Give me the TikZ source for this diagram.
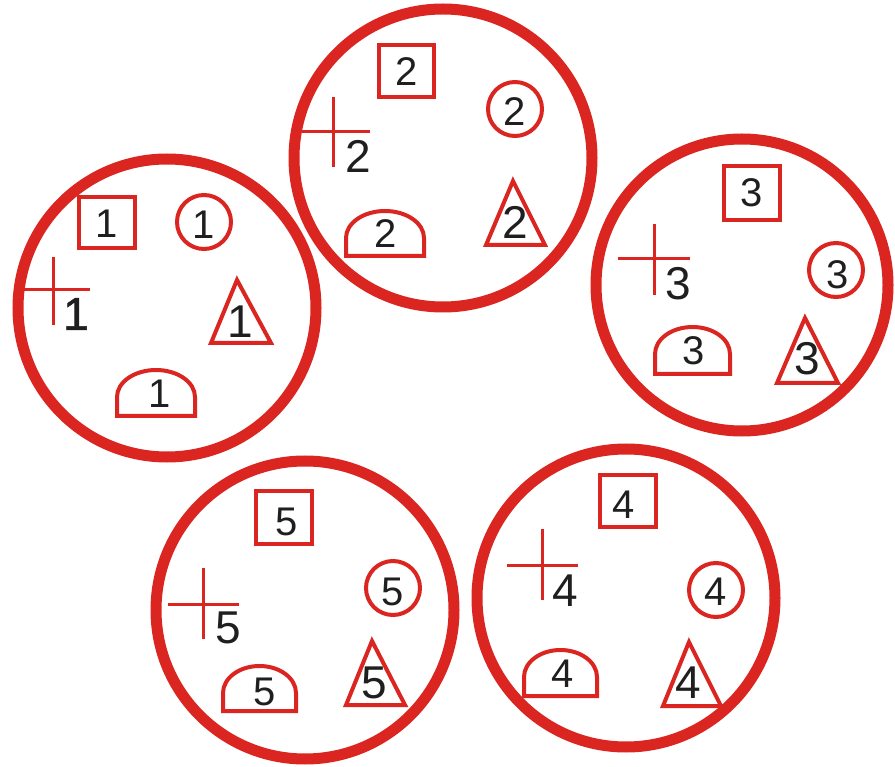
\documentclass[tikz,border=0pt]{standalone}
\usepackage{fontspec}
\setmainfont{Liberation Sans}
\definecolor{cred}{RGB}{218,37,32}
\begin{document}
\begin{tikzpicture}[x=1pt,y=-1pt,
  ring/.style={draw=cred, line width=11pt},
  shp/.style={draw=cred, line width=4pt},
  crs/.style={draw=cred, line width=3pt},
  num/.style={inner sep=0pt, text=black!88, font=\fontsize{40}{42}\selectfont},
  bignum/.style={num, font=\fontsize{46}{48}\selectfont}]
\useasboundingbox (0,0) rectangle (895,767);
\fill[white] (0,0) rectangle (895,767);
% outer rings
\draw[ring] (167,308) circle[radius=149];
\draw[ring] (443,158) circle[radius=149];
\draw[ring] (742,285) circle[radius=146];
\draw[ring] (626,598) circle[radius=149];
\draw[ring] (305,610) circle[radius=149];
% ---------- group 1 ----------
\draw[shp] (79,197) rectangle (135,248);
\node[num] (sq1) at (107,224) {1};
\draw[shp] (204,222) circle[radius=27];
\node[num] (ci1) at (204,225) {1};
\draw[crs] (23,290) -- (90,290) (53,257) -- (53,325);
\node[bignum, font=\fontsize{46}{48}\selectfont\addfontfeature{FakeBold=1.2}] (cr1) at (76,314) {1};
\draw[shp] (237,280) -- (211,343) -- (271,343) -- cycle;
\node[bignum] (tr1) at (240,322) {1};
\draw[shp] (117,416) -- (117,397) arc[start angle=180,end angle=360,x radius=39,y radius=27] -- (195,416) -- cycle;
\node[num] (do1) at (160,394) {1};
% ---------- group 2 ----------
\draw[shp] (379,45) rectangle (434,97);
\node[num] (sq2) at (407,72) {2};
\draw[shp] (515,109) circle[radius=27];
\node[num] (ci2) at (515,112) {2};
\draw[crs] (302,132) -- (370,132) (333,97) -- (333,167);
\node[bignum] (cr2) at (358,156) {2};
\draw[shp] (513,181) -- (486,245) -- (545,245) -- cycle;
\node[bignum] (tr2) at (515,222) {2};
\draw[shp] (346,256) -- (346,238) arc[start angle=180,end angle=360,x radius=39,y radius=27] -- (424,256) -- cycle;
\node[num] (do2) at (386,234) {2};
% ---------- group 3 ----------
\draw[shp] (724,166) rectangle (780,220);
\node[num] (sq3) at (752,193) {3};
\draw[shp] (836,270) circle[radius=27];
\node[num] (ci3) at (838,275) {3};
\draw[crs] (618,259) -- (690,259) (654,224) -- (654,295);
\node[bignum] (cr3) at (678,284) {3};
\draw[shp] (805,318) -- (777,383) -- (838,383) -- cycle;
\node[bignum] (tr3) at (807,359) {3};
\draw[shp] (655,374) -- (655,354) arc[start angle=180,end angle=360,x radius=37.5,y radius=27] -- (730,374) -- cycle;
\node[num] (do3) at (694,351) {3};
% ---------- group 4 ----------
\draw[shp] (600,475) rectangle (656,527);
\node[num] (sq4) at (624,505) {4};
\draw[shp] (716,590) circle[radius=27];
\node[num] (ci4) at (716,592) {4};
\draw[crs] (507,565) -- (578,565) (542,529) -- (542,600);
\node[bignum] (cr4) at (565,591) {4};
\draw[shp] (689,642) -- (663,706) -- (721,706) -- cycle;
\node[bignum] (tr4) at (688,683) {4};
\draw[shp] (524,696) -- (524,677) arc[start angle=180,end angle=360,x radius=36.5,y radius=27] -- (597,696) -- cycle;
\node[num] (do4) at (563,674) {4};
% ---------- group 5 ----------
\draw[shp] (256,491) rectangle (312,544);
\node[num] (sq5) at (287,522) {5};
\draw[shp] (393,588) circle[radius=27];
\node[num] (ci5) at (393,592) {5};
\draw[crs] (168,604) -- (239,604) (203,568) -- (203,639);
\node[bignum] (cr5) at (228,628) {5};
\draw[shp] (372,641) -- (346,705) -- (405,705) -- cycle;
\node[bignum] (tr5) at (374,683) {5};
\draw[shp] (223,711) -- (223,693) arc[start angle=180,end angle=360,x radius=36.5,y radius=27] -- (296,711) -- cycle;
\node[num] (do5) at (265,692) {5};
\end{tikzpicture}
\end{document}
